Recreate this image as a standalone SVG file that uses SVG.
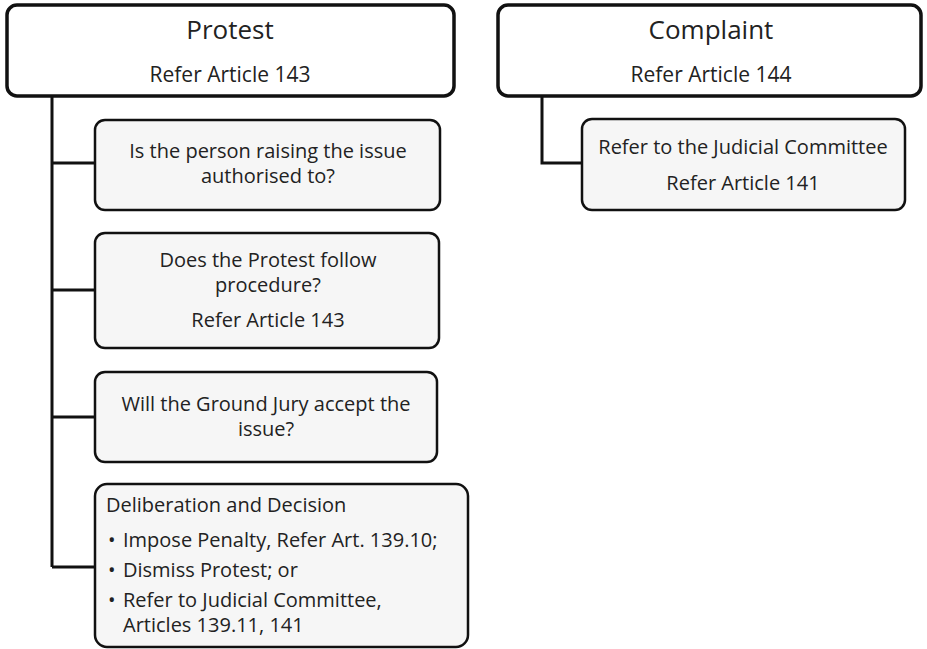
<svg xmlns="http://www.w3.org/2000/svg" width="927" height="649" viewBox="0 0 927 649">
<style>
.title{fill:#fff;stroke:#111;stroke-width:3.5}
.box{fill:#f6f6f6;stroke:#111;stroke-width:2.5}
.conn{fill:none;stroke:#111;stroke-width:3}
text{font-family:"Open Sans","Liberation Sans",sans-serif;fill:#222}
.t1{font-size:26px;text-anchor:middle}
.t2{font-size:21px;text-anchor:middle}
.c{font-size:20px;text-anchor:middle}
.l{font-size:20px}
</style>
<rect width="927" height="649" fill="#fff"/>
<g id="connectors">
<path class="conn" d="M52,97 V567 M52,163 H95 M52,290 H95 M52,417 H95 M52,567 H95"/>
<path class="conn" d="M542,97 V163 H582"/>
</g>
<g id="protest">
<rect class="title" x="7" y="5" width="447" height="91" rx="10"/>
<text class="t1" x="230" y="39">Protest</text>
<text class="t2" x="230" y="82">Refer Article 143</text>
</g>
<g id="complaint">
<rect class="title" x="498" y="5" width="423" height="91" rx="10"/>
<text class="t1" x="711" y="39">Complaint</text>
<text class="t2" x="711" y="82">Refer Article 144</text>
</g>
<g id="judicial">
<rect class="box" x="582" y="119" width="323" height="91" rx="10"/>
<text class="c" x="743" y="154">Refer to the Judicial Committee</text>
<text class="c" x="743" y="190">Refer Article 141</text>
</g>
<g id="authorised">
<rect class="box" x="95" y="120" width="345" height="90" rx="10"/>
<text class="c" x="268" y="158">Is the person raising the issue</text>
<text class="c" x="268" y="183">authorised to?</text>
</g>
<g id="procedure">
<rect class="box" x="95" y="233" width="344" height="115" rx="10"/>
<text class="c" x="268" y="267">Does the Protest follow</text>
<text class="c" x="268" y="292">procedure?</text>
<text class="c" x="268" y="327">Refer Article 143</text>
</g>
<g id="jury">
<rect class="box" x="95" y="372" width="342" height="90" rx="10"/>
<text class="c" x="266" y="411">Will the Ground Jury accept the</text>
<text class="c" x="266" y="436">issue?</text>
</g>
<g id="decision">
<rect class="box" x="95" y="484" width="373" height="163" rx="12"/>
<text class="l" x="106" y="512">Deliberation and Decision</text>
<text class="l" x="108" y="547">•</text><text class="l" x="123" y="547">Impose Penalty, Refer Art. 139.10;</text>
<text class="l" x="108" y="577">•</text><text class="l" x="123" y="577">Dismiss Protest; or</text>
<text class="l" x="108" y="607">•</text><text class="l" x="123" y="607">Refer to Judicial Committee,</text>
<text class="l" x="123" y="632">Articles 139.11, 141</text>
</g>
</svg>
